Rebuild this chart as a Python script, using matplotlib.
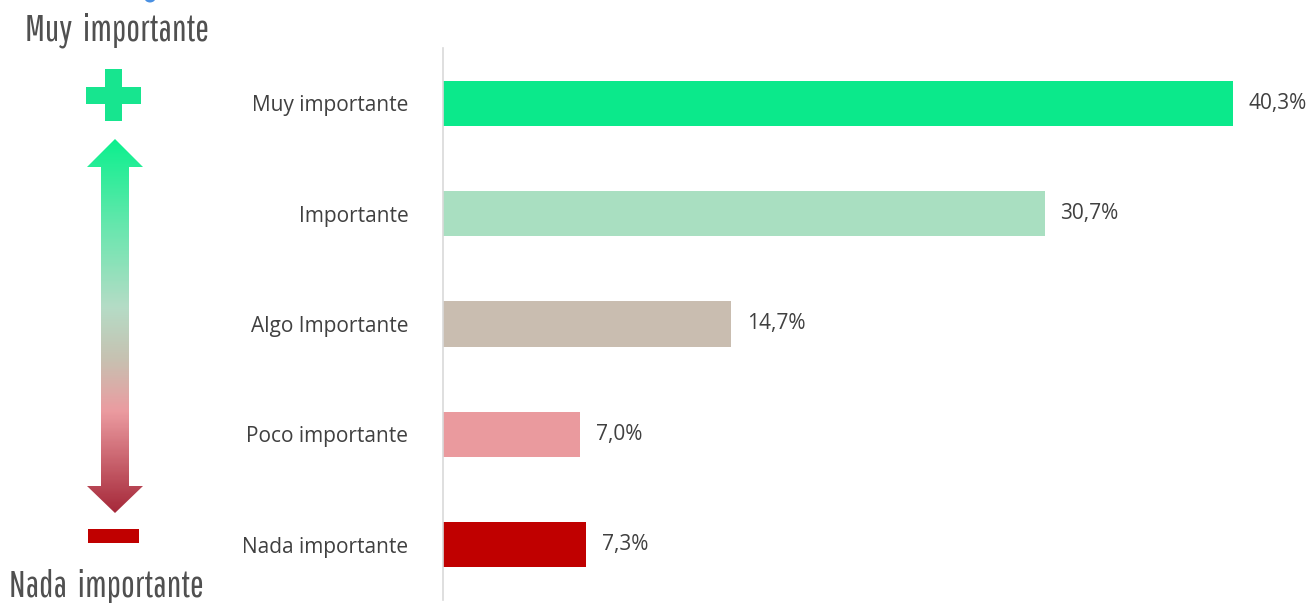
import numpy as np
import matplotlib
matplotlib.use("Agg")
import matplotlib.pyplot as plt
from matplotlib.patches import Polygon, Rectangle, Ellipse
from matplotlib.colors import LinearSegmentedColormap

categories = ["Muy importante", "Importante", "Algo Importante", "Poco importante", "Nada importante"]
values = [40.3, 30.7, 14.7, 7.0, 7.3]
value_labels = ["40,3%", "30,7%", "14,7%", "7,0%", "7,3%"]
bar_colors = ["#0BE98B", "#A9DFC1", "#C9BDB0", "#EA9A9E", "#C00000"]

TEXT = "#404040"
W, H = 1310, 603

fig = plt.figure(figsize=(W / 100, H / 100), dpi=100)

# bar chart
ax = fig.add_axes([443 / W, 3 / H, 867 / W, 552 / H])
ypos = np.arange(len(categories))
ax.barh(ypos, values, height=0.41, color=bar_colors)
ax.set_xlim(0, 867 / 19.6)
ax.set_ylim(len(categories) - 0.5, -0.5)
ax.set_yticks(ypos)
ax.set_yticklabels(categories, fontsize=15, color=TEXT, family="Open Sans")
ax.tick_params(axis="y", length=0, pad=25)
ax.set_xticks([])
for s in ["top", "right", "bottom"]:
    ax.spines[s].set_visible(False)
ax.spines["left"].set_color("#D9D9D9")
ax.spines["left"].set_linewidth(1.2)
for y, v, lab in zip(ypos, values, value_labels):
    ax.text(v + 0.8, y, lab, va="center", ha="left", fontsize=15,
            color=TEXT, family="Open Sans")

# left scale decoration, drawn in pixel space
deco = fig.add_axes([0, 0, 1, 1], zorder=-1)
deco.set_xlim(0, W)
deco.set_ylim(H, 0)
deco.axis("off")

title_font = ["Pathway Gothic One", "Roboto Condensed", "DejaVu Sans"]
deco.text(117, 40, "Muy  importante", ha="center", va="baseline", fontsize=26.5,
          color="#505050", family=title_font)
deco.text(106, 597, "Nada  importante", ha="center", va="baseline", fontsize=26.5,
          color="#505050", family=title_font)

# small blue shape cut at the top edge
deco.add_patch(Ellipse((150, -2), 11, 9, color="#4A90E2", lw=0))

# plus sign
plus_c = "#17E58F"
deco.add_patch(Rectangle((86, 87), 55, 17, color=plus_c, lw=0))
deco.add_patch(Rectangle((105, 69), 17, 52, color=plus_c, lw=0))
# minus sign
deco.add_patch(Rectangle((88, 529), 51, 14, color="#C00000", lw=0))

# double arrow with vertical gradient
arrow_pts = [(115, 139), (143, 167), (129, 167), (129, 486), (143, 486),
             (115, 513), (87, 486), (101, 486), (101, 167), (87, 167)]
arrow = Polygon(arrow_pts, closed=True, facecolor="none", edgecolor="none")
deco.add_patch(arrow)
grad = LinearSegmentedColormap.from_list(
    "scale", [(0.0, "#0CF08E"), (0.25, "#6EE6B0"), (0.45, "#B5DCC6"),
              (0.59, "#C7C1B1"), (0.73, "#EB9BA0"), (1.0, "#A6293A")])
g = np.linspace(0, 1, 300).reshape(-1, 1)
img = deco.imshow(g, cmap=grad, extent=(87, 143, 513, 139), aspect="auto",
                  interpolation="bilinear")
img.set_clip_path(arrow)
deco.set_xlim(0, W)
deco.set_ylim(H, 0)

fig.savefig("out.png", dpi=100)
